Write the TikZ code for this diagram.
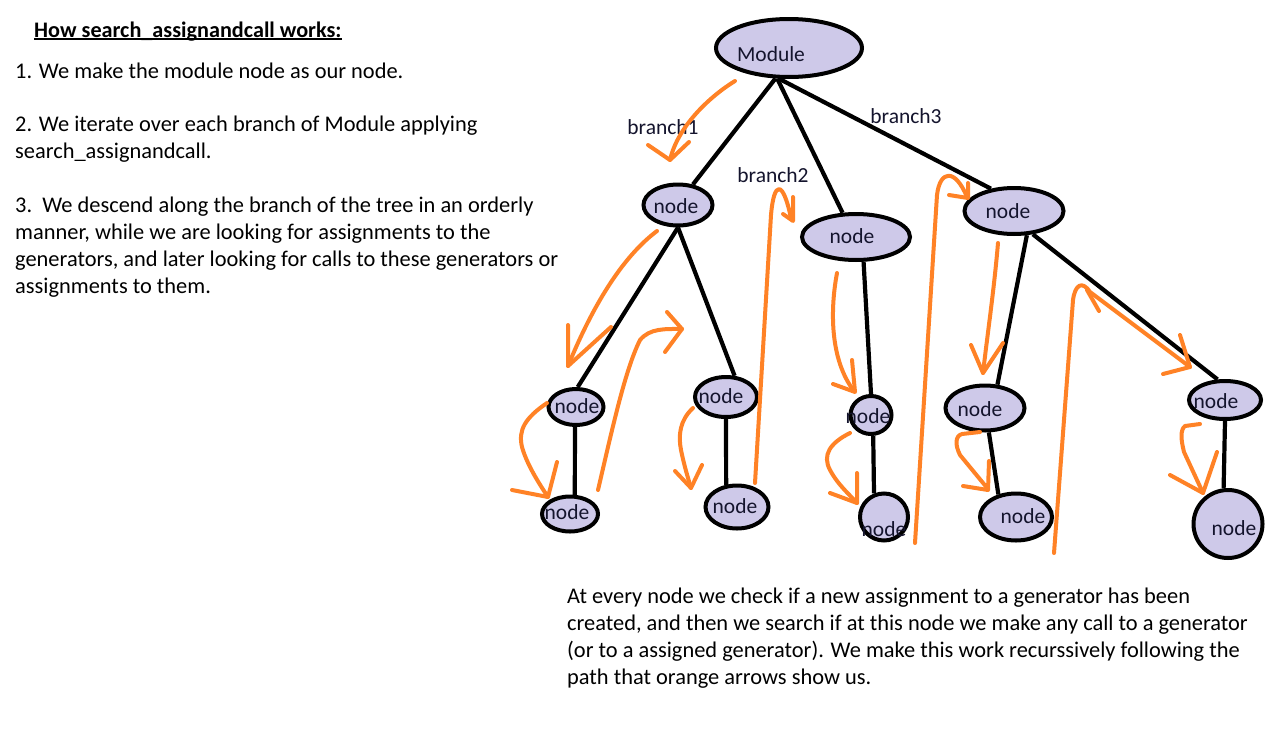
\documentclass[tikz,border=0pt]{standalone}
\usepackage{fontspec}
\setmainfont{Carlito}
\usetikzlibrary{shapes.geometric}
\definecolor{og}{RGB}{255,130,38}
\definecolor{lav}{RGB}{206,201,233}
\definecolor{ink}{RGB}{20,20,45}
\begin{document}
\begin{tikzpicture}[x=1pt,y=-1pt,
  tn/.style={ellipse, draw=black, line width=4pt, fill=lav, inner sep=0pt},
  lbl/.style={font=\fontsize{21.5}{24}\selectfont, text=ink, text height=15pt, text depth=0pt, inner sep=0pt},
  br/.style={font=\fontsize{21.5}{24}\selectfont, text=ink, anchor=base, inner sep=0pt},
  edge/.style={line width=4.2pt, draw=black},
  orng/.style={draw=og, line width=4pt, line cap=round, line join=round},
  body/.style={font=\fontsize{22.4}{26.7}\selectfont, anchor=base west, align=left, inner sep=0pt}]
\useasboundingbox[fill=white] (0,0) rectangle (1266,739);

% texts (base anchor = baseline of the last line)
\node[body, font=\fontsize{22.2}{26.7}\selectfont\bfseries] (title) at (34,37) {How search\_assignandcall works:};
\draw[line width=2.2pt] ([yshift=-2.1pt]title.base west) -- ([yshift=-2.1pt]title.base east);
\node[body] (p1) at (15,78) {1. We make the module node as our node.};
\node[body] (p2) at (15,158) {2. We iterate over each branch of Module applying\\search\_assignandcall.};
\node[body] (p3) at (15,293) {3.\ \ We descend along the branch of the tree in an orderly\\manner, while we are looking for assignments to the\\generators, and later looking for calls to these generators or\\assignments to them.};
\node[body] (p4) at (567,684) {At every node we check if a new assignment to a generator has been\\created, and then we search if at this node we make any call to a generator\\(or to a assigned generator). We make this work recurssively following the\\path that orange arrows show us.};

% tree nodes
\node[tn, minimum width=146pt, minimum height=58pt, label={[lbl,xshift=-18pt,yshift=-5.5pt]center:Module}] (m) at (789,48) {};
\node[tn, minimum width=69pt, minimum height=41pt, label={[lbl,xshift=-2pt,yshift=-0.5pt]center:node}] (a) at (678,205) {};
\node[tn, minimum width=108pt, minimum height=46pt, label={[lbl,xshift=-4pt,yshift=1.5pt]center:node}] (b) at (856,237) {};
\node[tn, minimum width=99pt, minimum height=46pt, label={[lbl,xshift=-6pt,yshift=0.5pt]center:node}] (c) at (1014,211) {};
\node[tn, minimum width=55pt, minimum height=36pt, label={[lbl,xshift=1pt,yshift=1.5pt]center:node}] (a1) at (576,407) {};
\node[tn, minimum width=56pt, minimum height=35pt, label={[lbl,xshift=-3pt,yshift=2.5pt]center:node}] (a1c) at (570,514) {};
\node[tn, minimum width=62pt, minimum height=40pt, label={[lbl,xshift=-5pt,yshift=1.5pt]center:node}] (a2) at (726,397) {};
\node[tn, minimum width=63pt, minimum height=43pt, label={[lbl,xshift=-2pt,yshift=1.5pt]center:node}] (a2c) at (737,507) {};
\node[tn, minimum width=41pt, minimum height=38pt, label={[lbl,xshift=-3pt,yshift=-0.5pt]center:node}] (b1) at (871,415) {};
\node[tn, minimum width=48pt, minimum height=47pt, label={[lbl,xshift=0pt,yshift=-11.5pt]center:node}] (b1c) at (884,517) {};
\node[tn, minimum width=79pt, minimum height=45pt, label={[lbl,xshift=-5pt,yshift=-0.5pt]center:node}] (c1) at (985,408) {};
\node[tn, minimum width=72pt, minimum height=47pt, label={[lbl,xshift=7pt,yshift=1.5pt]center:node}] (c1c) at (1016,517) {};
\node[tn, minimum width=72pt, minimum height=38pt, label={[lbl,xshift=-9pt,yshift=-0.5pt]center:node}] (c2) at (1225,400) {};
\node[tn, minimum width=69pt, minimum height=68pt, label={[lbl,xshift=6pt,yshift=-3.5pt]center:node}] (c2c) at (1228,524) {};

% edges
\draw[edge] (m.246) -- (a.54);
\draw[edge] (m.249) -- (b.119);
\draw[edge] (m.252) -- (c.136);
\draw[edge] (a.270) -- (a1.85);
\draw[edge] (a.270) -- (a2.68);
\draw[edge] (a1.267) -- (a1c.76);
\draw[edge] (a2.270) -- (a2c.116);
\draw[edge] (b.287) -- (b1.90);
\draw[edge] (b1.276) -- (b1c.113);
\draw[edge] (c.298) -- (c1.62);
\draw[edge] (c.309) -- (c2.110);
\draw[edge] (c1.279) -- (c1c.128);
\draw[edge] (c2.270) -- (c2c.97);

% branch labels
\node[br] (l1) at (663,134) {branch1};
\node[br] (l2) at (773,182) {branch2};
\node[br] (l3) at (906,123) {branch3};

% orange traversal arrows
\draw[orng] (735,81) .. controls (712,95) and (678,125) .. (670,160);
\draw[orng] (648,145) -- (670,160) -- (689,142);
\draw[orng] (657,231) .. controls (625,255) and (595,300) .. (568,366);
\draw[orng] (568,325) -- (568,366) -- (611,327);
\draw[orng] (598,490) .. controls (612,430) and (625,370) .. (640,340) .. controls (650,328) and (665,329) .. (682,329);
\draw[orng] (667,312) -- (682,329) -- (665,352);
\draw[orng] (547,403) .. controls (525,418) and (518,430) .. (522,447) .. controls (527,465) and (540,485) .. (548,497);
\draw[orng] (512,490) -- (548,497) -- (557,462);
\draw[orng] (693,408) .. controls (680,420) and (678,435) .. (681,450) .. controls (684,465) and (688,478) .. (691,488);
\draw[orng] (675,471) -- (691,488) -- (702,465);
\draw[orng] (755,483) -- (771,215) .. controls (774,180) and (783,180) .. (791,218);
\draw[orng] (793,197) -- (793,221) -- (783,214);
\draw[orng] (837,273) .. controls (830,310) and (830,360) .. (854,391);
\draw[orng] (833,384) -- (855,392) -- (852,360);
\draw[orng] (850,433) .. controls (830,443) and (822,455) .. (830,470) .. controls (838,485) and (850,495) .. (857,503);
\draw[orng] (830,493) -- (857,503) -- (857,473);
\draw[orng] (915,543) -- (937,195) .. controls (940,170) and (955,168) .. (967,197);
\draw[orng] (949,195) -- (968,198) -- (968,183);
\draw[orng] (998,243) .. controls (994,290) and (988,330) .. (983,373);
\draw[orng] (971,345) -- (983,373) -- (1003,343);
\draw[orng] (980,432) -- (962,434) .. controls (955,436) and (955,445) .. (960,455) -- (988,489);
\draw[orng] (963,486) -- (988,490) -- (989,461);
\draw[orng] (1054,553) -- (1073,300) .. controls (1075,285) and (1082,280) .. (1090,292) -- (1190,367);
\draw[orng] (1163,374) -- (1190,367) -- (1180,335);
\draw[orng] (1099,311) -- (1087,290);
\draw[orng] (1200,424) -- (1185,426) .. controls (1180,430) and (1181,440) .. (1184,452) -- (1203,493);
\draw[orng] (1170,475) -- (1203,493) -- (1217,452);
\end{tikzpicture}
\end{document}
